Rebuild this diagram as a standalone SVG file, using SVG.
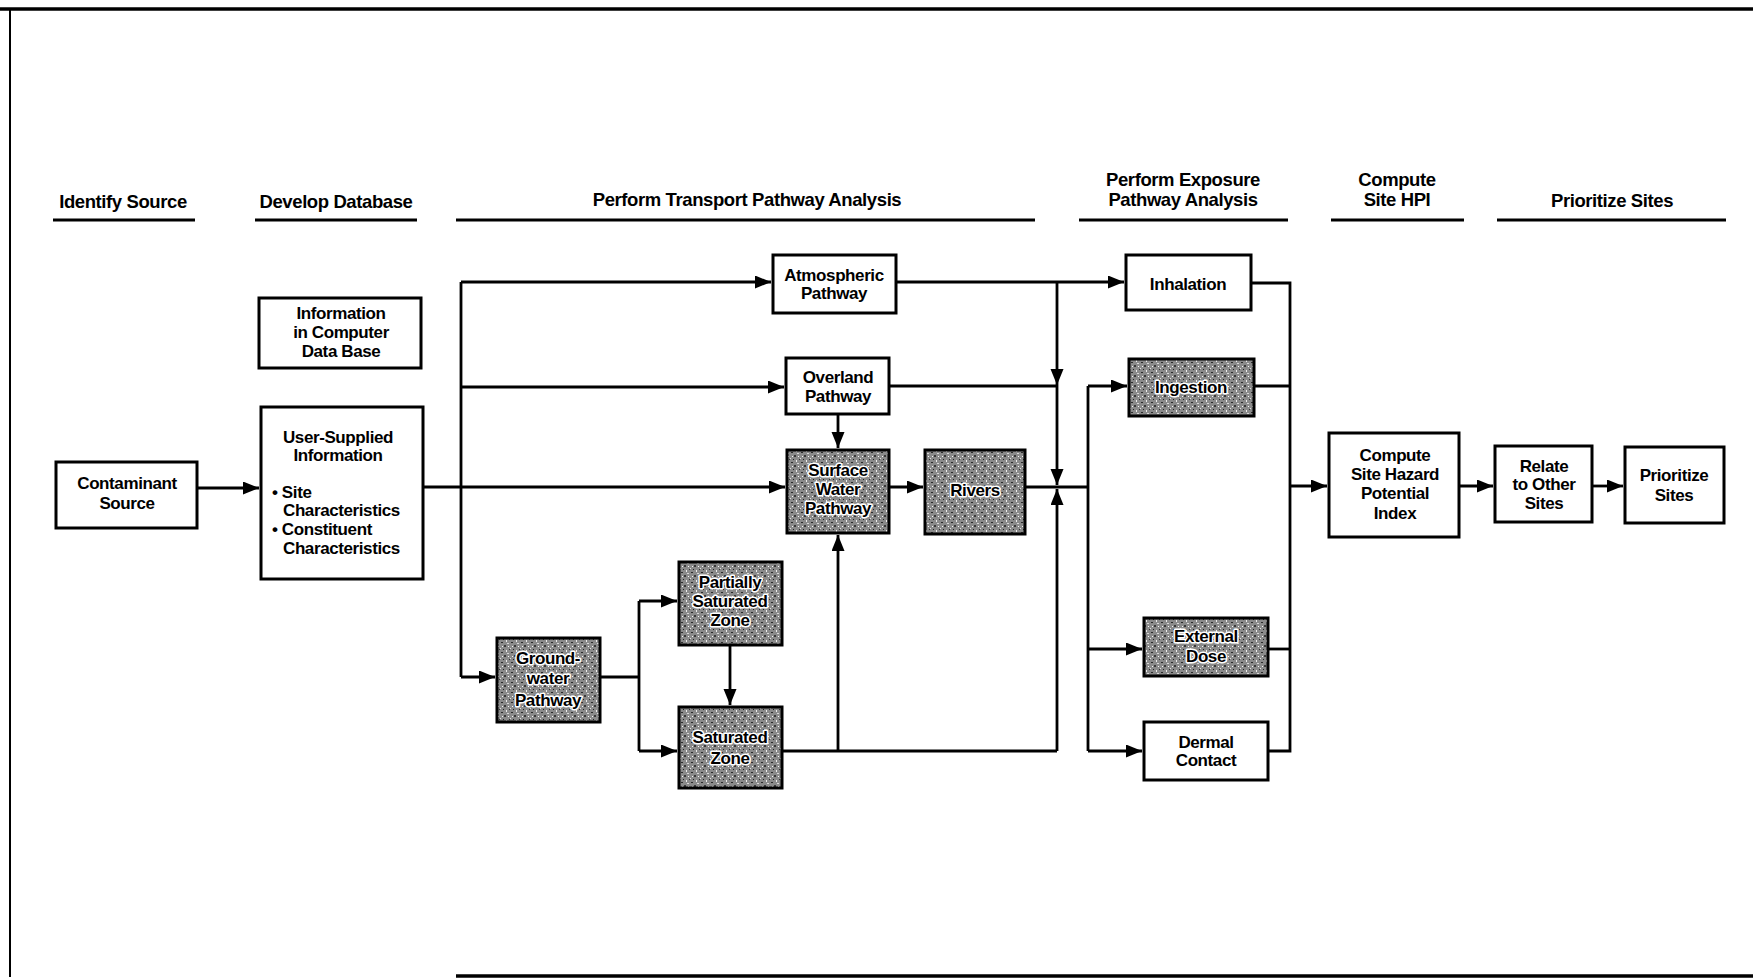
<svg xmlns="http://www.w3.org/2000/svg" width="1753" height="979" viewBox="0 0 1753 979">
<style>
  .title{font-family:"Liberation Sans",Arial,sans-serif;font-weight:bold;font-size:18.5px;fill:#000;text-anchor:middle;dominant-baseline:central;letter-spacing:-0.4px}
  .ul{stroke:#000;stroke-width:3}
  .box{fill:#fff;stroke:#000;stroke-width:3}
  .sbox{fill:url(#stip);stroke:#000;stroke-width:3}
  .t{font-family:"Liberation Sans",Arial,sans-serif;font-weight:bold;font-size:17px;fill:#000;text-anchor:middle;dominant-baseline:central;letter-spacing:-0.4px}
  .tl{text-anchor:start}
  .st{paint-order:stroke;stroke:#fff;stroke-width:3px;stroke-linejoin:round}
  .c{fill:none;stroke:#000;stroke-width:2.8}
  .a{marker-end:url(#arr)}
</style>
<defs>
  <marker id="arr" markerWidth="18" markerHeight="14" refX="16" refY="6.5" orient="auto" markerUnits="userSpaceOnUse">
    <path d="M0,0 L16,6.5 L0,13 z" fill="#000"/>
  </marker>
  <pattern id="stip" width="10" height="10" patternUnits="userSpaceOnUse">
    <rect width="10" height="10" fill="#8a8a8a"/>
    <rect x="1" y="2" width="2" height="1" fill="#2b2b2b"/>
    <rect x="6" y="0" width="1" height="2" fill="#efefef"/>
    <rect x="4" y="5" width="2" height="2" fill="#3a3a3a"/>
    <rect x="8" y="6" width="1" height="1" fill="#ffffff"/>
    <rect x="0" y="8" width="1" height="1" fill="#e0e0e0"/>
    <rect x="3" y="9" width="1" height="1" fill="#222"/>
    <rect x="7" y="3" width="2" height="1" fill="#d8d8d8"/>
    <rect x="2" y="6" width="1" height="1" fill="#f5f5f5"/>
    <rect x="9" y="9" width="1" height="1" fill="#333"/>
  </pattern>
</defs>
<rect width="1753" height="979" fill="#fff"/>

<g id="frame">
  <line x1="0" y1="9" x2="1753" y2="9" stroke="#000" stroke-width="3.5"/>
  <line x1="10" y1="9" x2="10" y2="977" stroke="#000" stroke-width="2"/>
  <line x1="456" y1="976" x2="1753" y2="976" stroke="#000" stroke-width="3.5"/>
</g>

<g id="titles">
  <text class="title" x="123" y="201">Identify Source</text>
  <line class="ul" x1="53" y1="220" x2="195" y2="220"/>
  <text class="title" x="336" y="201">Develop Database</text>
  <line class="ul" x1="255" y1="220" x2="417" y2="220"/>
  <text class="title" x="747" y="199">Perform Transport Pathway Analysis</text>
  <line class="ul" x1="456" y1="220" x2="1035" y2="220"/>
  <text class="title" x="1183" y="179">Perform Exposure</text>
  <text class="title" x="1183" y="199">Pathway Analysis</text>
  <line class="ul" x1="1079" y1="220" x2="1288" y2="220"/>
  <text class="title" x="1397" y="179">Compute</text>
  <text class="title" x="1397" y="199">Site HPI</text>
  <line class="ul" x1="1331" y1="220" x2="1464" y2="220"/>
  <text class="title" x="1612" y="200">Prioritize Sites</text>
  <line class="ul" x1="1497" y1="220" x2="1726" y2="220"/>
</g>

<g id="connectors">
  <path class="c a" d="M197,488 H259"/>
  <path class="c" d="M461,282 V677"/>
  <path class="c a" d="M461,282 H771"/>
  <path class="c a" d="M461,387 H784"/>
  <path class="c a" d="M423,487 H785"/>
  <path class="c a" d="M461,677 H495"/>
  <path class="c a" d="M838,414 V448"/>
  <path class="c a" d="M889,487 H923"/>
  <path class="c" d="M600,677 H639"/>
  <path class="c" d="M639,601 V751"/>
  <path class="c a" d="M639,601 H677"/>
  <path class="c a" d="M639,751 H677"/>
  <path class="c a" d="M730,645 V705"/>
  <path class="c" d="M782,751 H1057"/>
  <path class="c a" d="M838,751 V535"/>
  <path class="c" d="M896,282 H1057"/>
  <path class="c a" d="M1057,282 H1124"/>
  <path class="c" d="M889,386 H1057"/>
  <path class="c a" d="M1057,282 V385"/>
  <path class="c a" d="M1057,385 V485"/>
  <path class="c a" d="M1057,751 V489"/>
  <path class="c" d="M1025,487 H1088"/>
  <path class="c" d="M1088,386 V751"/>
  <path class="c a" d="M1088,386 H1127"/>
  <path class="c a" d="M1088,649 H1142"/>
  <path class="c a" d="M1088,751 H1142"/>
  <path class="c" d="M1251,283 H1290 V751 H1268"/>
  <path class="c" d="M1254,386 H1290"/>
  <path class="c" d="M1268,649 H1290"/>
  <path class="c a" d="M1290,486 H1327"/>
  <path class="c a" d="M1459,486 H1493"/>
  <path class="c a" d="M1592,486 H1623"/>
</g>

<g id="contaminant-source">
  <rect class="box" x="56" y="462" width="141" height="66"/>
  <text class="t" x="127" y="483">Contaminant</text>
  <text class="t" x="127" y="503">Source</text>
</g>

<g id="info-database">
  <rect class="box" x="259" y="298" width="162" height="70"/>
  <text class="t" x="341" y="313">Information</text>
  <text class="t" x="341" y="332">in Computer</text>
  <text class="t" x="341" y="351">Data Base</text>
</g>

<g id="user-supplied">
  <rect class="box" x="261" y="407" width="162" height="172"/>
  <text class="t" x="338" y="437">User-Supplied</text>
  <text class="t" x="338" y="455">Information</text>
  <text class="t tl" x="272" y="492">• Site</text>
  <text class="t tl" x="283" y="510">Characteristics</text>
  <text class="t tl" x="272" y="529">• Constituent</text>
  <text class="t tl" x="283" y="548">Characteristics</text>
</g>

<g id="atmospheric">
  <rect class="box" x="773" y="255" width="123" height="58"/>
  <text class="t" x="834" y="275">Atmospheric</text>
  <text class="t" x="834" y="293">Pathway</text>
</g>

<g id="overland">
  <rect class="box" x="786" y="358" width="103" height="56"/>
  <text class="t" x="838" y="377">Overland</text>
  <text class="t" x="838" y="396">Pathway</text>
</g>

<g id="surface-water">
  <rect class="sbox" x="787" y="450" width="102" height="83"/>
  <text class="t st" x="838" y="470">Surface</text>
  <text class="t st" x="838" y="489">Water</text>
  <text class="t st" x="838" y="508">Pathway</text>
</g>

<g id="rivers">
  <rect class="sbox" x="925" y="450" width="100" height="84"/>
  <text class="t st" x="975" y="490">Rivers</text>
</g>

<g id="groundwater">
  <rect class="sbox" x="497" y="638" width="103" height="84"/>
  <text class="t st" x="548" y="658">Ground-</text>
  <text class="t st" x="548" y="678">water</text>
  <text class="t st" x="548" y="700">Pathway</text>
</g>

<g id="partially-saturated">
  <rect class="sbox" x="679" y="562" width="103" height="83"/>
  <text class="t st" x="730" y="582">Partially</text>
  <text class="t st" x="730" y="601">Saturated</text>
  <text class="t st" x="730" y="620">Zone</text>
</g>

<g id="saturated">
  <rect class="sbox" x="679" y="707" width="103" height="81"/>
  <text class="t st" x="730" y="737">Saturated</text>
  <text class="t st" x="730" y="758">Zone</text>
</g>

<g id="inhalation">
  <rect class="box" x="1126" y="255" width="125" height="55"/>
  <text class="t" x="1188" y="284">Inhalation</text>
</g>

<g id="ingestion">
  <rect class="sbox" x="1129" y="359" width="125" height="57"/>
  <text class="t st" x="1191" y="387">Ingestion</text>
</g>

<g id="external-dose">
  <rect class="sbox" x="1144" y="618" width="124" height="58"/>
  <text class="t st" x="1206" y="636">External</text>
  <text class="t st" x="1206" y="656">Dose</text>
</g>

<g id="dermal-contact">
  <rect class="box" x="1144" y="722" width="124" height="58"/>
  <text class="t" x="1206" y="742">Dermal</text>
  <text class="t" x="1206" y="760">Contact</text>
</g>

<g id="compute-hpi">
  <rect class="box" x="1329" y="433" width="130" height="104"/>
  <text class="t" x="1395" y="455">Compute</text>
  <text class="t" x="1395" y="474">Site Hazard</text>
  <text class="t" x="1395" y="493">Potential</text>
  <text class="t" x="1395" y="513">Index</text>
</g>

<g id="relate-sites">
  <rect class="box" x="1495" y="446" width="97" height="76"/>
  <text class="t" x="1544" y="466">Relate</text>
  <text class="t" x="1544" y="484">to Other</text>
  <text class="t" x="1544" y="503">Sites</text>
</g>

<g id="prioritize-sites">
  <rect class="box" x="1625" y="447" width="99" height="76"/>
  <text class="t" x="1674" y="475">Prioritize</text>
  <text class="t" x="1674" y="495">Sites</text>
</g>
</svg>
